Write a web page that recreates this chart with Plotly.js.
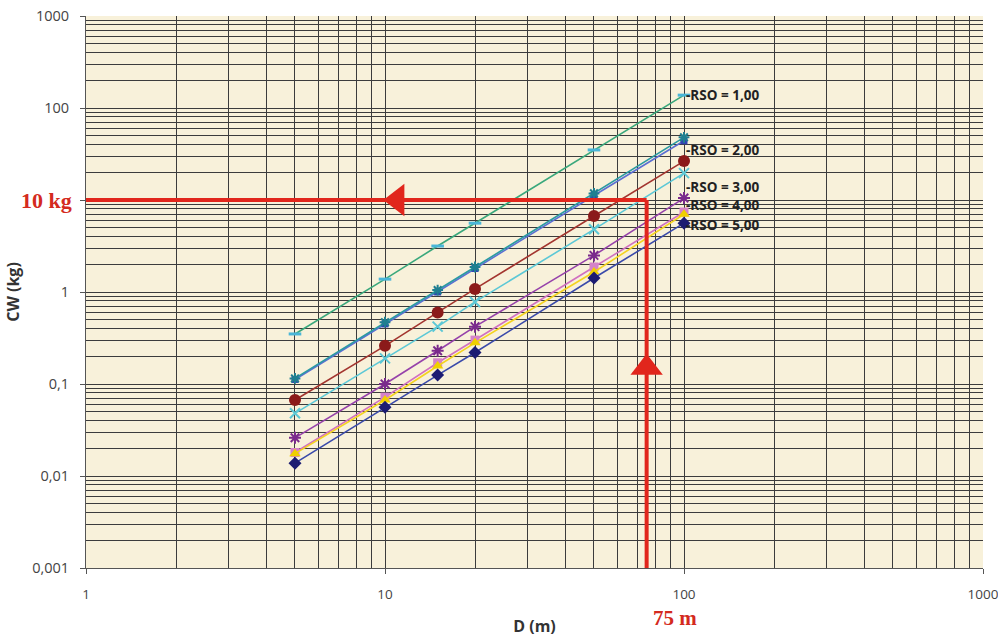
<!DOCTYPE html>
<html>
<head>
<meta charset="utf-8">
<script src="https://cdn.plot.ly/plotly-3.0.1.min.js"></script>
<style>
  html, body { margin: 0; padding: 0; background: #ffffff; }
  #chart { width: 998px; height: 639px; }
</style>
</head>
<body>
<div id="chart"></div>
<script>
// Distance values (m)
const distances = [5, 10, 15, 20, 50, 100];

// Charge weight CW (kg) for each curve
const cwRso1      = [0.35, 1.38, 3.16, 5.6, 35, 138];
const cwTealStar  = [0.115, 0.47, 1.05, 1.87, 11.8, 48];
const cwBlueSq    = [0.112, 0.45, 1.0, 1.80, 11.2, 44];
const cwRedCircle = [0.067, 0.26, 0.60, 1.08, 6.7, 26.5];
const cwCyanX     = [0.048, 0.19, 0.42, 0.78, 4.8, 19.6];
const cwPurpleX   = [0.026, 0.10, 0.23, 0.42, 2.5, 10.5];
const cwPinkSq    = [0.018, 0.072, 0.17, 0.30, 1.87, 7.4];
const cwYellowTri = [0.0175, 0.067, 0.157, 0.28, 1.65, 7.0];
const cwNavyDia   = [0.0138, 0.056, 0.125, 0.22, 1.42, 5.6];

// Curve labels
const labelTexts = ["-RSO = 1,00", "-RSO = 2,00", "-RSO = 3,00", "-RSO = 4,00", "-RSO = 5,00"];
const labelCW    = [138, 35, 13.8, 8.8, 5.35];

// Tick labels (the "10" label is covered by the red "10 kg" reading)
const yTickVals = [0.001, 0.01, 0.1, 1, 10, 100, 1000];
const yTickText = ["0,001", "0,01", "0,1", "1", "", "100", "1000"];
const xTickVals = [1, 10, 100, 1000];
const xTickText = ["1", "10", "100", "1000"];

// Reading example (red construction lines)
const readD = 75;     // m
const readCW = 10;    // kg
const readDText = "75 m";
const readCWText = "10 kg";
const xMin = 1;
const yMin = 0.001;
const arrowLeftX = 11;
const arrowUpY = 0.15;

function series(y, lineColor, markerColor, symbol, size, mlw) {
  return {
    x: distances, y: y, type: 'scatter', mode: 'lines+markers',
    line: { color: lineColor, width: 1.6 },
    marker: { color: markerColor, symbol: symbol, size: size,
              line: { color: markerColor, width: mlw || 0 } },
    showlegend: false, hoverinfo: 'x+y'
  };
}

const red = '#e1261c';

const traces = [
  series(cwRso1, '#3aa87c', '#4ab6d8', 'line-ew-open', 9, 3),
  series(cwBlueSq, '#5b6fd2', '#3142b2', 'square', 7),
  series(cwTealStar, '#2a9aa2', '#1f7f90', 'asterisk-open', 9, 2),
  series(cwRedCircle, '#a3352f', '#8b1a1a', 'circle', 12),
  series(cwCyanX, '#5cc8d6', '#5cc8d6', 'x-thin-open', 10, 2),
  series(cwPurpleX, '#9642aa', '#7a2a8c', 'asterisk-open', 10, 2),
  series(cwPinkSq, '#d070c0', '#d583c9', 'square', 9),
  series(cwYellowTri, '#f4d320', '#f0d000', 'triangle-up', 10),
  series(cwNavyDia, '#3a4aaa', '#1c1c72', 'diamond', 10),
  // red construction lines
  { x: [xMin, readD], y: [readCW, readCW], type: 'scatter', mode: 'lines',
    line: { color: red, width: 4 }, showlegend: false, hoverinfo: 'skip', cliponaxis: false },
  { x: [readD, readD], y: [readCW, yMin], type: 'scatter', mode: 'lines',
    line: { color: red, width: 4 }, showlegend: false, hoverinfo: 'skip', cliponaxis: false },
  { x: [arrowLeftX], y: [readCW], type: 'scatter', mode: 'markers',
    marker: { symbol: 'triangle-left', size: 28, color: red }, showlegend: false, hoverinfo: 'skip' },
  { x: [readD], y: [arrowUpY], type: 'scatter', mode: 'markers',
    marker: { symbol: 'triangle-up', size: 28, color: red }, showlegend: false, hoverinfo: 'skip' }
];

const annotations = labelTexts.map((t, i) => ({
  x: Math.log10(100), y: Math.log10(labelCW[i]), xref: 'x', yref: 'y',
  text: t, showarrow: false, xanchor: 'left', yanchor: 'middle', xshift: 0,
  font: { family: 'Open Sans, sans-serif', size: 13.5, color: '#222222', weight: 'bold' }
}));
annotations.push({
  x: 0, y: Math.log10(readCW), xref: 'paper', yref: 'y', xanchor: 'right', xshift: -12,
  text: '<b>' + readCWText + '</b>', showarrow: false,
  font: { family: 'Liberation Serif, serif', size: 22, color: '#d42a20' }
});
annotations.push({
  x: Math.log10(readD), y: 0, xref: 'x', yref: 'paper', yanchor: 'top', xanchor: 'left', yshift: -36, xshift: 4,
  text: '<b>' + readDText + '</b>', showarrow: false,
  font: { family: 'Liberation Serif, serif', size: 21, color: '#d42a20' }
});

const gridC = '#3c3c3c';
const yTickFont = { family: 'Open Sans, sans-serif', size: 14.5, color: '#444444' };
const xTickFont = { family: 'Open Sans, sans-serif', size: 13.5, color: '#444444' };
const layout = {
  width: 998, height: 639,
  margin: { l: 86, r: 15, t: 16, b: 71 },
  paper_bgcolor: '#ffffff',
  plot_bgcolor: '#f8f1da',
  font: { family: 'Open Sans, sans-serif', size: 13, color: '#404040' },
  xaxis: {
    type: 'log', range: [0, 3],
    tickvals: xTickVals, ticktext: xTickText,
    ticks: 'outside', ticklen: 5, tickcolor: '#555', ticklabelstandoff: 9,
    ticklabeloverflow: 'allow',
    showgrid: true, gridcolor: gridC, gridwidth: 1,
    minor: { dtick: 'D1', showgrid: true, gridcolor: gridC, gridwidth: 1, ticks: '' },
    showline: true, linecolor: '#555', linewidth: 1, mirror: false,
    zeroline: false,
    tickfont: xTickFont,
    title: { text: '<b>D (m)</b>', standoff: 18,
             font: { family: 'Open Sans, sans-serif', size: 16, color: '#333333' } }
  },
  yaxis: {
    type: 'log', range: [-3, 3],
    tickvals: yTickVals, ticktext: yTickText,
    ticks: 'outside', ticklen: 5, tickcolor: '#555', ticklabelstandoff: 8,
    ticklabeloverflow: 'allow',
    showgrid: true, gridcolor: gridC, gridwidth: 1,
    minor: { dtick: 'D1', showgrid: true, gridcolor: gridC, gridwidth: 1, ticks: '' },
    showline: true, linecolor: '#555', linewidth: 1,
    zeroline: false,
    tickfont: yTickFont,
    title: { text: '<b>CW (kg)</b>', standoff: 8,
             font: { family: 'Open Sans, sans-serif', size: 16, color: '#333333' } }
  },
  annotations: annotations
};

Plotly.newPlot('chart', traces, layout, { displayModeBar: false, staticPlot: true });
</script>
</body>
</html>
